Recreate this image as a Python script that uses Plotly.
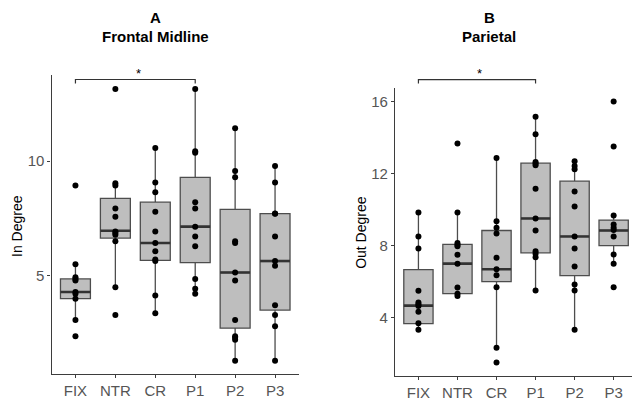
import plotly.graph_objects as go

categories = ["FIX", "NTR", "CR", "P1", "P2", "P3"]

# Panel A: Frontal Midline, In Degree (individual points)
a_fix = [8.93, 5.5, 4.93, 4.86, 4.79, 4.29, 4.21, 4.0, 3.07, 2.36]
a_ntr = [13.14, 9.03, 8.93, 7.93, 7.57, 6.93, 6.86, 6.79, 6.5, 4.5, 3.29]
a_cr = [10.57, 9.07, 8.64, 7.79, 6.93, 6.43, 6.07, 5.71, 5.64, 4.14, 3.36]
a_p1 = [13.14, 10.43, 10.36, 8.21, 7.93, 7.14, 6.71, 6.29, 4.86, 4.43, 4.21]
a_p2 = [11.43, 9.57, 9.29, 6.5, 6.43, 5.14, 4.79, 3.07, 2.36, 2.29, 2.21, 1.29]
a_p3 = [9.79, 9.07, 7.71, 7.7, 6.71, 5.64, 5.43, 3.71, 3.29, 2.79, 1.29]

# Panel A box statistics
a_q1 = [4.0, 6.64, 5.67, 5.57, 2.71, 3.5]
a_median = [4.29, 6.96, 6.43, 7.14, 5.14, 5.64]
a_q3 = [4.86, 8.37, 8.21, 9.29, 7.89, 7.71]
a_lower = [3.07, 4.5, 3.36, 4.21, 1.29, 1.29]
a_upper = [5.5, 9.03, 10.57, 13.14, 11.43, 9.79]

# Panel B: Parietal, Out Degree (individual points)
b_fix = [9.84, 8.51, 7.84, 5.49, 4.84, 4.75, 4.65, 4.33, 3.69, 3.33]
b_ntr = [13.67, 9.84, 8.15, 8.05, 7.96, 7.49, 7.0, 5.67, 5.33, 5.2]
b_cr = [12.87, 9.35, 9.0, 8.67, 7.33, 6.69, 6.35, 5.69, 2.33, 1.51]
b_p1 = [15.16, 14.18, 12.65, 12.56, 12.47, 11.16, 9.51, 8.84, 7.69, 7.55, 7.36, 5.51]
b_p2 = [12.69, 12.42, 12.24, 11.0, 10.18, 8.51, 7.84, 6.84, 5.84, 5.51, 3.33]
b_p3 = [16.0, 13.51, 9.67, 9.18, 9.0, 8.87, 8.51, 7.51, 7.0, 5.69]

# Panel B box statistics
b_q1 = [3.67, 5.33, 6.0, 7.6, 6.33, 8.0]
b_median = [4.67, 7.0, 6.69, 9.51, 8.51, 8.84]
b_q3 = [6.67, 8.07, 8.84, 12.58, 11.58, 9.42]
b_lower = [3.33, 5.2, 2.33, 5.51, 3.33, 7.0]
b_upper = [9.84, 9.84, 12.87, 15.16, 12.69, 9.67]

# significance comparison (group indices) and bracket levels
sig_pair = (0, 3)
a_bracket = (13.56, 13.39, 13.94)   # line level, tick end, star level
b_bracket = (17.22, 17.0, 17.71)

a_range_y = [0.71, 13.74]
b_range_y = [0.77, 16.73]
a_range_x = [-0.6, 5.6]
b_range_x = [-0.6, 5.47]

W, H = 632, 401
a_dom_x = [51.5 / W, 299.0 / W]
b_dom_x = [395.0 / W, 1.0]
a_dom_y = [1 - 380.7 / H, 1 - 76.7 / H]
b_dom_y = [1 - 382.5 / H, 1 - 90.0 / H]

BOXW = 0.75
FILL = "#bebebe"
EDGE = "#4d4d4d"
FONT = "Liberation Sans, Arial, sans-serif"

fig = go.Figure()


def add_panel(groups, q1, med, q3, lo, up, xa, ya):
    xs = list(range(len(categories)))
    fig.add_trace(go.Box(
        x=xs, q1=q1, median=med, q3=q3, lowerfence=lo, upperfence=up,
        width=BOXW, fillcolor=FILL, line=dict(color=EDGE, width=1.3),
        whiskerwidth=0, boxpoints=False, showlegend=False,
        xaxis=xa, yaxis=ya, hoverinfo="skip"))
    mx, my = [], []
    for i, m in enumerate(med):
        mx += [i - BOXW / 2, i + BOXW / 2, None]
        my += [m, m, None]
    fig.add_trace(go.Scatter(x=mx, y=my, mode="lines",
                             line=dict(color="#333333", width=2.6),
                             showlegend=False, xaxis=xa, yaxis=ya, hoverinfo="skip"))
    px, py = [], []
    for i, g in enumerate(groups):
        px += [i] * len(g)
        py += g
    fig.add_trace(go.Scatter(x=px, y=py, mode="markers",
                             marker=dict(color="black", size=6),
                             showlegend=False, xaxis=xa, yaxis=ya, hoverinfo="skip"))


add_panel([a_fix, a_ntr, a_cr, a_p1, a_p2, a_p3], a_q1, a_median, a_q3, a_lower, a_upper, "x", "y")
add_panel([b_fix, b_ntr, b_cr, b_p1, b_p2, b_p3], b_q1, b_median, b_q3, b_lower, b_upper, "x2", "y2")


def bracket(xref, yref, rx, ry, levels):
    def fx(v):
        return (v - rx[0]) / (rx[1] - rx[0])

    def fy(v):
        return (v - ry[0]) / (ry[1] - ry[0])
    x0, x1 = fx(sig_pair[0]), fx(sig_pair[1])
    top, bot, star = levels
    path = (f"M {x0} {fy(bot)} L {x0} {fy(top)} L {x1} {fy(top)} L {x1} {fy(bot)}")
    fig.add_shape(type="path", path=path, xref=xref + " domain", yref=yref + " domain",
                  line=dict(color="#333333", width=1.2))
    fig.add_annotation(x=fx((sig_pair[0] + sig_pair[1]) / 2), y=fy(star),
                       xref=xref + " domain", yref=yref + " domain",
                       xanchor="center", yanchor="middle",
                       text="*", showarrow=False, xshift=3, yshift=-3,
                       font=dict(family=FONT, size=13, color="black"))


bracket("x", "y", a_range_x, a_range_y, a_bracket)
bracket("x2", "y2", b_range_x, b_range_y, b_bracket)

axis_common = dict(showgrid=False, zeroline=False, showline=True, linecolor="#3d3d3d",
                   linewidth=1.2, ticks="outside", ticklen=3, tickcolor="#3d3d3d",
                   tickfont=dict(family=FONT, size=15, color="#555555"))

fig.update_layout(
    width=W, height=H, margin=dict(l=0, r=0, t=0, b=0),
    paper_bgcolor="white", plot_bgcolor="white",
    xaxis=dict(domain=a_dom_x, range=a_range_x, tickvals=list(range(6)),
               ticktext=categories, anchor="y", **axis_common),
    yaxis=dict(domain=a_dom_y, range=a_range_y, tickvals=[5, 10], anchor="x", **axis_common),
    xaxis2=dict(domain=b_dom_x, range=b_range_x, tickvals=list(range(6)),
                ticktext=categories, anchor="y2", **axis_common),
    yaxis2=dict(domain=b_dom_y, range=b_range_y, tickvals=[4, 8, 12, 16], anchor="x2", **axis_common),
    showlegend=False,
)

# panel titles
for xpx, letter, name in [(155, "A", "Frontal Midline"), (489, "B", "Parietal")]:
    fig.add_annotation(x=xpx / W, y=1 - 18 / H, xref="paper", yref="paper",
                       xanchor="center", yanchor="middle",
                       text=f"<b>{letter}</b>", showarrow=False,
                       font=dict(family=FONT, size=15, color="black"))
    fig.add_annotation(x=xpx / W, y=1 - 37.5 / H, xref="paper", yref="paper",
                       xanchor="center", yanchor="middle",
                       text=f"<b>{name}</b>", showarrow=False,
                       font=dict(family=FONT, size=15, color="black"))

# y axis titles
fig.add_annotation(x=17 / W, y=1 - 230 / H, xref="paper", yref="paper", text="In Degree",
                   xanchor="center", yanchor="middle",
                   textangle=-90, showarrow=False, font=dict(family=FONT, size=14, color="black"))
fig.add_annotation(x=361 / W, y=1 - 237 / H, xref="paper", yref="paper", text="Out Degree",
                   xanchor="center", yanchor="middle",
                   textangle=-90, showarrow=False, font=dict(family=FONT, size=14, color="black"))

fig.write_html("out.html", config={"displayModeBar": False},
               post_script="document.body.style.margin='0';")
